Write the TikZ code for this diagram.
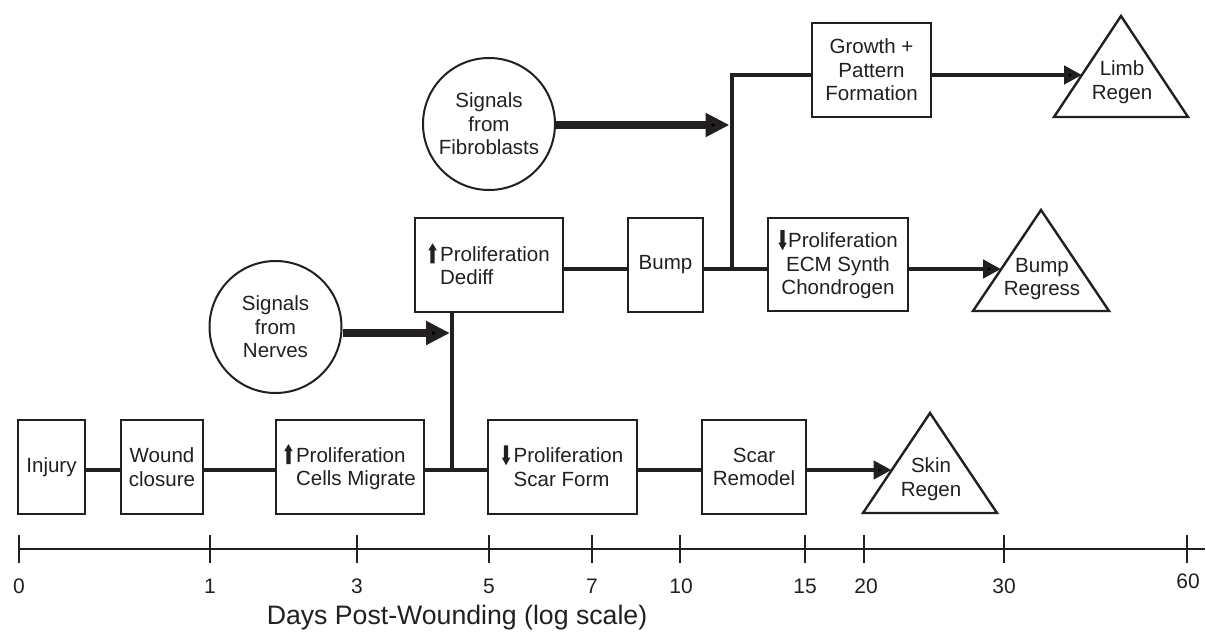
\documentclass[tikz,border=0pt]{standalone}
\usepackage{fontspec}
\setmainfont{Liberation Sans}
\usetikzlibrary{arrows.meta,calc}
\definecolor{ink}{HTML}{231F20}
\newcommand{\uparr}{\tikz[x=1pt,y=1pt,baseline=0pt]\fill[ink] (-1.6,-1.5) -- (-1.6,8.2) -- (-3.2,8.2) -- (0,13.5) -- (3.2,8.2) -- (1.6,8.2) -- (1.6,-1.5) -- cycle;}
\newcommand{\dnarr}{\tikz[x=1pt,y=1pt,baseline=0pt]\fill[ink] (-1.6,13) -- (-1.6,3.8) -- (-3.2,3.8) -- (0,-2) -- (3.2,3.8) -- (1.6,3.8) -- (1.6,13) -- cycle;}
\begin{document}
\begin{tikzpicture}[x=0.75pt,y=-0.75pt,
  font=\fontsize{15.4}{17.6}\selectfont,
  box/.style={draw=ink, line width=1.5pt, inner sep=0pt, minimum height=70.5pt, text=ink},
  circ/.style={draw=ink, circle, line width=1.5pt, minimum size=99pt, inner sep=0pt, align=center, text=ink},
  conn/.style={draw=ink, line width=3.2pt},
  big/.style={draw=ink, line width=6pt, -{Triangle[length=18pt,width=17pt]}},
  res/.style={draw=ink, line width=3.5pt, -{Triangle[length=13.5pt,width=13.5pt]}},
  tri/.style={draw=ink, line width=1.8pt, line join=miter},
  lab/.style={text=ink, align=center, inner sep=0pt},
  num/.style={text=ink, font=\fontsize{15.75}{18}\selectfont},
  tick/.style={draw=ink, line width=1.5pt}]
\useasboundingbox (0,0) rectangle (1206,642);

% boxes
\node[box, minimum width=50.25pt] (inj) at (51.5,467) {Injury};
\node[box, minimum width=61.5pt, align=center] (wnd) at (162,467) {Wound\\closure};
\node[box, minimum width=111pt, align=left] (mig) at (350,467) {\uparr\hspace{2.5pt}Proliferation\\\phantom{\uparr\hspace{2.5pt}}Cells Migrate};
\node[box, minimum width=111.75pt, align=left] (scar) at (562.5,467) {\dnarr\hspace{2.5pt}Proliferation\\\phantom{\dnarr\hspace{2.5pt}}Scar Form};
\node[box, minimum width=78pt, align=center] (rem) at (754,467) {Scar\\Remodel};
\node[box, minimum width=111pt, align=left] (ded) at (489,265) {\uparr\hspace{2.5pt}Proliferation\\\phantom{\uparr\hspace{2.5pt}}Dediff};
\node[box, minimum width=56.25pt] (bump) at (665.5,265) {Bump};
\node[box, minimum width=105pt, minimum height=69.75pt, align=center] (ecm) at (838,264.5) {\dnarr\hspace{1pt}Proliferation\\ECM Synth\\Chondrogen};
\node[box, minimum width=89.25pt, align=center] (gro) at (871.5,70) {Growth +\\Pattern\\Formation};

% circles
\node[circ] (fib) at (489,124) {Signals\\from\\Fibroblasts};
\node[circ] (nerv) at (275.5,327) {Signals\\from\\Nerves};

% outcome triangles
\draw[tri] (1054,117) -- (1121,16) -- (1188,117) -- cycle;
\node[lab] (limb) at (1122,82) {Limb\\Regen};
\draw[tri] (973,311) -- (1041,210) -- (1109,311) -- cycle;
\node[lab] (breg) at (1042,279) {Bump\\Regress};
\draw[tri] (863,513) -- (930,413) -- (997,513) -- cycle;
\node[lab] (skin) at (931,479) {Skin\\Regen};

% junctions and arrow targets
\coordinate (jA) at (452,470);
\coordinate (jN) at (450,333);
\coordinate (jB) at (732,269);
\coordinate (jC) at (732,75);
\coordinate (jF) at (729.5,125);
\coordinate (tS) at (891.5,470);
\coordinate (tB) at (1001,269);
\coordinate (tL) at (1082,75);

% connectors
\draw[conn] (inj.east |- jA) -- (wnd.west |- jA);
\draw[conn] (wnd.east |- jA) -- (mig.west |- jA);
\draw[conn] (mig.east |- jA) -- (scar.west |- jA);
\draw[conn] (scar.east |- jA) -- (rem.west |- jA);
\draw[res] (rem.east |- jA) -- (tS);
\draw[conn] (jA) -- (ded.south -| jA);
\draw[conn] (ded.east |- jB) -- (bump.west |- jB);
\draw[conn] (bump.east |- jB) -- (ecm.west |- jB);
\draw[conn, line join=miter] (jB) -- (jC) -- (gro.west |- jC);
\draw[res] (gro.east |- jC) -- (tL);
\draw[res] (ecm.east |- jB) -- (tB);
\draw[big] (nerv.east |- jN) -- (jN);
\draw[big] (fib.east |- jF) -- (jF);

% time axis
\draw[tick] (19,549) -- (1205,549);
\foreach \x in {19,210,357,489,592,680,805,864,1004,1187}
  \draw[tick] (\x,535) -- (\x,563);
\node[num] (n0) at (19,586) {0};
\node[num] (n1) at (210,586) {1};
\node[num] (n3) at (357,586) {3};
\node[num] (n5) at (489,586) {5};
\node[num] (n7) at (592,586) {7};
\node[num] (n10) at (681,586) {10};
\node[num] (n15) at (805,586) {15};
\node[num] (n20) at (866,586) {20};
\node[num] (n30) at (1004,586) {30};
\node[num] (n60) at (1188,581) {60};
\node[text=ink, font=\fontsize{20}{24}\selectfont] (ttl) at (457,618) {Days Post-Wounding (log scale)};
\end{tikzpicture}
\end{document}
